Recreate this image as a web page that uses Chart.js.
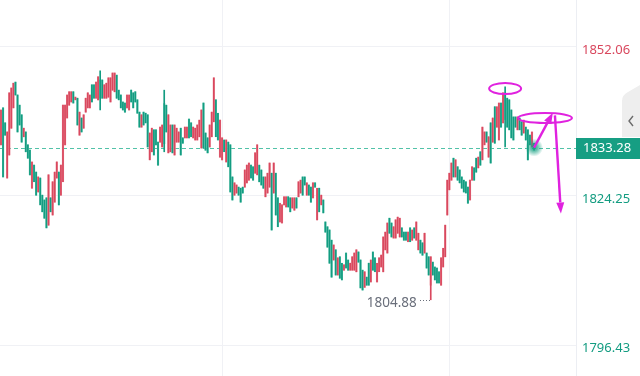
<!DOCTYPE html>
<html>
<head>
<meta charset="utf-8">
<script src="https://cdn.jsdelivr.net/npm/chart.js@4.4.0/dist/chart.umd.min.js"></script>
<style>
  html, body { margin: 0; padding: 0; background: #fff; }
  #wrap { width: 640px; height: 376px; position: relative; }
</style>
</head>
<body>
<div id="wrap"><canvas id="chart"></canvas></div>
<script>
//-----------------------------------------------------------------------------
// candle data (price), one entry per bar, left to right
//-----------------------------------------------------------------------------
const opens = [
  1833.8, 1840.7, 1837.9, 1827.6, 1831.9, 1836.9, 1840.7, 1845.5, 1843.1, 1841.2,
  1839.4, 1835.3, 1836.2, 1833.8, 1832.8, 1825.7, 1830.0, 1828.7, 1825.0, 1827.6,
  1824.4, 1823.5, 1823.9, 1818.8, 1823.9, 1820.7, 1823.1, 1827.6, 1828.7, 1824.4,
  1826.9, 1833.8, 1838.8, 1841.2, 1841.8, 1843.7, 1842.2, 1842.5, 1835.6, 1838.8,
  1836.9, 1839.9, 1840.7, 1840.7, 1845.0, 1845.0, 1842.5, 1842.2, 1845.9, 1845.9,
  1842.5, 1842.5, 1842.7, 1841.8, 1844.0, 1843.7, 1846.8, 1844.0, 1843.1, 1841.8,
  1841.6, 1840.7, 1840.3, 1844.0, 1843.5, 1843.7, 1842.2, 1839.9, 1837.1, 1839.9,
  1839.7, 1839.4, 1831.0, 1832.5, 1836.6, 1836.6, 1834.3, 1834.3, 1833.4, 1841.5,
  1841.2, 1832.3, 1832.5, 1837.5, 1831.9, 1834.3, 1834.3, 1836.9, 1835.1, 1835.1,
  1835.1, 1838.6, 1837.9, 1835.1, 1834.7, 1834.7, 1835.3, 1833.2, 1841.6, 1836.0,
  1835.1, 1833.4, 1835.3, 1838.1, 1842.2, 1839.7, 1831.5, 1831.0, 1834.7, 1830.6,
  1834.3, 1833.8, 1827.8, 1824.4, 1824.8, 1825.9, 1825.7, 1825.9, 1825.9, 1826.7,
  1827.2, 1830.0, 1829.7, 1828.5, 1828.2, 1830.0, 1829.1, 1827.8, 1824.1, 1824.8,
  1825.9, 1828.5, 1824.8, 1828.5, 1823.9, 1819.4, 1819.2, 1822.6, 1822.2, 1824.1,
  1823.9, 1822.0, 1821.6, 1823.9, 1824.1, 1824.8, 1827.8, 1827.8, 1824.4, 1826.3,
  1825.9, 1823.9, 1826.7, 1819.8, 1825.7, 1822.6, 1823.5, 1819.4, 1818.5, 1817.9,
  1816.0, 1812.3, 1814.2, 1809.5, 1812.9, 1811.7, 1810.4, 1813.6, 1812.3, 1810.4,
  1810.4, 1810.4, 1810.1, 1813.8, 1812.3, 1810.4, 1807.2, 1809.1, 1811.7, 1808.2,
  1813.8, 1812.7, 1808.2, 1810.1, 1811.0, 1810.1, 1814.2, 1813.6, 1820.1, 1819.2,
  1816.4, 1816.4, 1817.3, 1816.6, 1818.3, 1817.5, 1817.5, 1815.7, 1818.3, 1816.0,
  1818.3, 1816.0, 1814.2, 1816.0, 1815.5, 1813.6, 1813.6, 1812.9, 1807.6, 1811.9,
  1811.0, 1810.8, 1810.1, 1807.6, 1811.0, 1812.9, 1820.7, 1825.4, 1827.2, 1831.3,
  1827.8, 1829.7, 1829.1, 1827.8, 1827.2, 1826.9, 1825.9, 1823.5, 1827.2, 1829.5,
  1831.3, 1829.5, 1832.5, 1831.0, 1833.8, 1836.2, 1831.5, 1837.9, 1834.3, 1840.9,
  1837.1, 1834.7, 1841.6, 1837.9, 1843.5, 1842.5, 1842.2, 1840.3, 1839.0, 1839.0,
  1836.6, 1838.8, 1838.1, 1836.0, 1837.1, 1836.6, 1835.6, 1833.4, 1834.1
];
const highs = [
  1840.3, 1840.7, 1837.9, 1836.2, 1843.5, 1844.4, 1845.3, 1845.5, 1843.1, 1841.2,
  1839.4, 1836.9, 1836.2, 1833.8, 1832.8, 1830.6, 1830.0, 1828.7, 1827.8, 1827.6,
  1824.4, 1823.5, 1823.9, 1828.2, 1823.9, 1826.9, 1828.7, 1830.6, 1828.7, 1830.0,
  1841.2, 1841.2, 1843.1, 1843.7, 1843.7, 1843.7, 1842.7, 1842.5, 1839.9, 1838.8,
  1839.4, 1842.5, 1843.5, 1843.1, 1845.0, 1845.0, 1845.5, 1846.5, 1847.6, 1845.9,
  1845.0, 1845.3, 1846.3, 1846.3, 1847.2, 1847.2, 1846.8, 1844.0, 1843.1, 1841.8,
  1841.6, 1843.1, 1843.1, 1844.0, 1843.5, 1843.7, 1842.2, 1839.9, 1839.4, 1839.9,
  1839.7, 1839.4, 1836.0, 1836.9, 1836.6, 1836.6, 1834.3, 1837.1, 1837.5, 1844.0,
  1841.2, 1839.4, 1837.5, 1837.5, 1837.5, 1836.9, 1836.2, 1836.9, 1835.1, 1837.1,
  1837.1, 1838.6, 1837.9, 1837.1, 1836.9, 1837.5, 1838.4, 1840.3, 1841.6, 1836.0,
  1835.1, 1837.5, 1839.9, 1846.3, 1842.2, 1839.7, 1838.4, 1835.1, 1834.7, 1834.7,
  1834.3, 1833.8, 1827.8, 1826.7, 1826.3, 1825.9, 1825.7, 1825.9, 1829.1, 1830.0,
  1830.4, 1830.0, 1829.7, 1832.3, 1833.8, 1830.0, 1829.1, 1827.8, 1827.8, 1828.5,
  1830.4, 1828.5, 1830.4, 1828.5, 1823.9, 1822.9, 1822.6, 1824.1, 1824.1, 1824.1,
  1823.9, 1823.9, 1823.9, 1823.9, 1826.9, 1827.2, 1827.8, 1827.8, 1826.7, 1826.3,
  1825.9, 1826.7, 1826.7, 1825.7, 1825.7, 1824.4, 1823.5, 1819.4, 1818.5, 1817.9,
  1816.0, 1815.1, 1814.2, 1812.7, 1812.9, 1811.7, 1811.4, 1813.6, 1812.3, 1811.7,
  1812.9, 1813.6, 1814.2, 1813.8, 1812.3, 1810.4, 1810.1, 1809.1, 1811.7, 1812.3,
  1813.8, 1812.7, 1811.7, 1812.7, 1813.2, 1816.6, 1817.5, 1819.2, 1820.1, 1819.2,
  1818.5, 1819.8, 1820.3, 1820.1, 1818.3, 1817.5, 1817.5, 1817.5, 1818.3, 1817.9,
  1818.3, 1819.4, 1817.3, 1816.0, 1815.5, 1817.3, 1813.6, 1812.9, 1812.9, 1811.9,
  1811.0, 1810.8, 1810.1, 1812.7, 1814.5, 1818.8, 1827.2, 1828.5, 1830.4, 1831.3,
  1831.0, 1829.7, 1829.1, 1827.8, 1827.2, 1826.9, 1825.9, 1827.2, 1829.7, 1829.5,
  1831.3, 1831.5, 1832.5, 1837.1, 1836.2, 1836.2, 1835.3, 1837.9, 1838.8, 1840.9,
  1840.9, 1841.6, 1841.6, 1843.5, 1844.6, 1842.5, 1842.2, 1840.3, 1839.0, 1839.0,
  1839.0, 1838.8, 1838.1, 1838.4, 1837.1, 1836.6, 1835.6, 1836.2, 1834.1
];
const lows = [
  1833.8, 1827.8, 1835.6, 1827.6, 1831.9, 1836.9, 1840.7, 1843.1, 1836.2, 1837.5,
  1834.3, 1835.3, 1832.5, 1831.3, 1828.2, 1825.7, 1826.9, 1824.4, 1825.0, 1822.6,
  1821.3, 1820.1, 1818.3, 1818.8, 1821.3, 1820.7, 1823.1, 1827.6, 1822.6, 1824.4,
  1826.9, 1833.8, 1838.8, 1841.2, 1841.8, 1841.6, 1842.2, 1837.5, 1835.6, 1836.2,
  1836.9, 1839.9, 1840.7, 1840.7, 1841.8, 1842.5, 1842.5, 1842.2, 1840.3, 1842.5,
  1842.5, 1842.5, 1842.7, 1841.8, 1844.0, 1843.7, 1842.5, 1842.2, 1840.7, 1840.3,
  1839.9, 1840.7, 1840.3, 1841.8, 1840.7, 1841.8, 1839.7, 1837.1, 1837.1, 1837.5,
  1837.9, 1833.4, 1831.0, 1832.5, 1831.9, 1833.8, 1830.0, 1834.3, 1833.4, 1832.5,
  1836.2, 1832.3, 1832.5, 1832.3, 1831.9, 1834.3, 1834.3, 1831.9, 1834.1, 1835.1,
  1835.1, 1835.1, 1835.3, 1835.1, 1834.7, 1834.7, 1835.3, 1833.2, 1833.2, 1832.8,
  1832.3, 1833.4, 1835.3, 1838.1, 1835.3, 1834.7, 1831.5, 1831.0, 1832.5, 1830.6,
  1829.7, 1825.0, 1823.5, 1824.4, 1824.8, 1824.4, 1823.1, 1824.8, 1825.9, 1826.7,
  1827.2, 1827.6, 1827.2, 1828.5, 1828.2, 1826.9, 1826.3, 1825.7, 1824.1, 1824.8,
  1825.9, 1817.9, 1824.8, 1820.7, 1818.5, 1819.4, 1819.2, 1822.6, 1822.2, 1822.2,
  1821.3, 1822.0, 1821.6, 1822.0, 1824.1, 1824.8, 1824.4, 1826.3, 1824.4, 1824.4,
  1823.1, 1823.9, 1825.9, 1819.8, 1821.3, 1822.6, 1821.1, 1817.5, 1814.7, 1811.7,
  1809.1, 1812.3, 1809.5, 1809.5, 1808.9, 1808.6, 1810.4, 1810.8, 1810.4, 1810.4,
  1810.4, 1810.4, 1810.1, 1811.9, 1807.1, 1806.7, 1807.2, 1807.6, 1807.6, 1808.2,
  1810.4, 1810.1, 1808.2, 1810.1, 1811.0, 1810.1, 1814.2, 1813.6, 1817.3, 1816.6,
  1816.4, 1816.4, 1817.3, 1816.6, 1816.6, 1816.0, 1816.0, 1815.7, 1815.7, 1816.0,
  1816.4, 1816.0, 1814.2, 1813.6, 1813.2, 1813.6, 1810.8, 1809.5, 1804.88, 1809.5,
  1808.6, 1808.0, 1808.0, 1807.6, 1811.0, 1812.9, 1820.7, 1825.4, 1827.2, 1827.8,
  1827.8, 1827.2, 1826.7, 1825.7, 1825.0, 1824.8, 1822.9, 1823.5, 1827.2, 1827.2,
  1828.7, 1829.5, 1830.0, 1831.0, 1833.8, 1834.3, 1831.5, 1830.4, 1834.3, 1834.1,
  1837.1, 1834.7, 1837.1, 1837.9, 1833.4, 1837.1, 1836.6, 1835.1, 1834.7, 1837.1,
  1836.6, 1836.6, 1835.6, 1836.0, 1834.7, 1831.0, 1833.8, 1833.4, 1832.8
];
const closes = [
  1840.3, 1827.8, 1835.6, 1836.2, 1843.5, 1844.4, 1845.3, 1843.1, 1836.2, 1837.5,
  1834.3, 1836.9, 1832.5, 1831.3, 1828.2, 1830.6, 1826.9, 1824.4, 1827.8, 1822.6,
  1821.3, 1820.1, 1818.3, 1828.2, 1821.3, 1826.9, 1828.7, 1830.6, 1822.6, 1830.0,
  1841.2, 1841.2, 1843.1, 1843.7, 1843.7, 1841.6, 1842.7, 1837.5, 1839.9, 1836.2,
  1839.4, 1842.5, 1843.5, 1843.1, 1841.8, 1842.5, 1845.5, 1846.5, 1842.5, 1842.5,
  1845.0, 1845.3, 1846.3, 1846.3, 1847.2, 1847.2, 1842.5, 1842.2, 1840.7, 1840.3,
  1839.9, 1843.1, 1843.1, 1841.8, 1840.7, 1841.8, 1839.7, 1837.1, 1839.4, 1837.5,
  1837.9, 1833.4, 1836.0, 1836.9, 1831.9, 1833.8, 1830.0, 1837.1, 1837.5, 1834.0,
  1836.2, 1839.4, 1837.5, 1832.3, 1837.5, 1836.9, 1836.2, 1831.9, 1834.1, 1837.1,
  1837.1, 1835.1, 1835.3, 1837.1, 1836.9, 1837.5, 1838.4, 1840.3, 1833.2, 1832.8,
  1832.3, 1837.5, 1839.9, 1846.3, 1835.3, 1834.7, 1838.4, 1835.1, 1832.5, 1834.7,
  1829.7, 1825.0, 1823.5, 1826.7, 1826.3, 1824.4, 1823.1, 1824.8, 1829.1, 1830.0,
  1830.4, 1827.6, 1827.2, 1832.3, 1833.8, 1826.9, 1826.3, 1825.7, 1827.8, 1828.5,
  1830.4, 1817.9, 1830.4, 1820.7, 1818.5, 1822.9, 1822.6, 1824.1, 1824.1, 1822.2,
  1821.3, 1823.9, 1823.9, 1822.0, 1826.9, 1827.2, 1824.4, 1826.3, 1826.7, 1824.4,
  1823.1, 1826.7, 1825.9, 1825.7, 1821.3, 1824.4, 1821.1, 1817.5, 1814.7, 1811.7,
  1809.1, 1815.1, 1809.5, 1812.7, 1808.9, 1808.6, 1811.4, 1810.8, 1810.4, 1811.7,
  1812.9, 1813.6, 1814.2, 1811.9, 1807.1, 1806.7, 1810.1, 1807.6, 1807.6, 1812.3,
  1810.4, 1810.1, 1811.7, 1812.7, 1813.2, 1816.6, 1817.5, 1819.2, 1817.3, 1816.6,
  1818.5, 1819.8, 1820.3, 1820.1, 1816.6, 1816.0, 1816.0, 1817.5, 1815.7, 1817.9,
  1816.4, 1819.4, 1817.3, 1813.6, 1813.2, 1817.3, 1810.8, 1809.5, 1812.9, 1809.5,
  1808.6, 1808.0, 1808.0, 1812.7, 1814.5, 1818.8, 1827.2, 1828.5, 1830.4, 1827.8,
  1831.0, 1827.2, 1826.7, 1825.7, 1825.0, 1824.8, 1822.9, 1827.2, 1829.7, 1827.2,
  1828.7, 1831.5, 1830.0, 1837.1, 1836.2, 1834.3, 1835.3, 1830.4, 1838.8, 1834.1,
  1840.9, 1841.6, 1837.1, 1843.5, 1838.5, 1837.1, 1836.6, 1835.1, 1834.7, 1837.1,
  1839.0, 1836.6, 1835.6, 1838.4, 1834.7, 1831.0, 1833.8, 1836.2, 1833.28
];

// axis / reference values
const priceTicks   = [1796.43, 1824.25, 1852.06];
const lastPrice    = 1833.28;
const sessionLines = [107, 217.3];     // bar index where the faint vertical lines sit
const yMin = 1790.65, yMax = 1860.83;

// hand drawn marks, in (bar index, price)
const ringPeak  = [244, 1844.3];
const ringRight = [263.3, 1838.8];
const arrowUp   = [[258, 1833.28], [267.1, 1839.8]];
const arrowDown = [[268.1, 1839.3], [271.0, 1821.0]];

const RED = '#d9485e', RED_LT = '#ec97a2';
const TEAL = '#139c81', TEAL_LT = '#74cdb9';
const MAGENTA = '#e022df';
const FONT = '"Noto Sans", "DejaVu Sans", sans-serif';

const isUp = i => closes[i] >= opens[i];

//-----------------------------------------------------------------------------
// extra drawing: last price line + tag, low label, side tab, glow, marker pen
//-----------------------------------------------------------------------------
const overlay = {
  id: 'overlay',
  beforeDatasetsDraw(chart){
    const {ctx, chartArea, scales: {y}} = chart;
    const py = Math.round(y.getPixelForValue(lastPrice)) + 0.5;
    ctx.save();
    ctx.strokeStyle = '#52c2a8';
    ctx.lineWidth = 1;
    ctx.setLineDash([4, 3]);
    ctx.beginPath();
    ctx.moveTo(chartArea.left, py);
    ctx.lineTo(chartArea.right, py);
    ctx.stroke();
    ctx.restore();
  },
  afterDatasetsDraw(chart){
    const {ctx, scales: {x, y}} = chart;

    // lowest low label
    let li = 0;
    lows.forEach((v, i) => { if (v < lows[li]) li = i; });
    const lx = x.getPixelForValue(li), ly = y.getPixelForValue(lows[li]);
    ctx.save();
    ctx.fillStyle = '#6a6f7b';
    for (let dx = 2; dx <= 11; dx += 3) ctx.fillRect(Math.round(lx - dx), Math.round(ly), 1, 1);
    ctx.font = `13.5px ${FONT}`;
    ctx.textAlign = 'right';
    ctx.textBaseline = 'middle';
    ctx.fillText(lows[li].toFixed(2), lx - 14, ly + 3);
    ctx.restore();
  },
  afterDraw(chart){
    const {ctx, chartArea, scales: {x, y}} = chart;
    const W = chart.width;
    ctx.save();

    // collapse tab on the right
    ctx.fillStyle = '#eeeeee';
    ctx.beginPath();
    ctx.moveTo(622, 137);
    ctx.lineTo(622, 101);
    ctx.quadraticCurveTo(622, 95, 628, 92);
    ctx.lineTo(W, 85);
    ctx.lineTo(W, 137);
    ctx.closePath();
    ctx.fill();
    ctx.strokeStyle = '#6b6b6b';
    ctx.lineWidth = 1.4;
    ctx.beginPath();
    ctx.moveTo(633, 116);
    ctx.lineTo(629, 121);
    ctx.lineTo(633, 126);
    ctx.stroke();

    // last price tag
    const py = y.getPixelForValue(lastPrice);
    ctx.fillStyle = '#169e83';
    ctx.fillRect(chartArea.right, Math.round(py) - 10, W - chartArea.right, 21);
    ctx.fillStyle = '#ffffff';
    ctx.font = `13px ${FONT}`;
    ctx.textAlign = 'left';
    ctx.textBaseline = 'middle';
    ctx.fillText(lastPrice.toFixed(2), chartArea.right + 7, py + 1);

    // glow on last bar
    const gx = x.getPixelForValue(closes.length - 1);
    const g = ctx.createRadialGradient(gx, py, 0, gx, py, 9);
    g.addColorStop(0, 'rgba(22,160,130,0.95)');
    g.addColorStop(0.4, 'rgba(22,160,130,0.65)');
    g.addColorStop(1, 'rgba(22,160,130,0)');
    ctx.fillStyle = g;
    ctx.beginPath();
    ctx.arc(gx, py, 9, 0, Math.PI * 2);
    ctx.fill();

    // marker pen
    const P = p => [x.getPixelForValue(p[0]), y.getPixelForValue(p[1])];
    ctx.strokeStyle = MAGENTA;
    ctx.fillStyle = MAGENTA;
    ctx.lineWidth = 2;
    let c = P(ringPeak);
    ctx.beginPath(); ctx.ellipse(c[0], c[1], 16, 5.5, 0, 0, Math.PI * 2); ctx.stroke();
    c = P(ringRight);
    ctx.beginPath(); ctx.ellipse(c[0], c[1], 27, 5, 0, 0, Math.PI * 2); ctx.stroke();
    drawArrow(ctx, P(arrowUp[0]), P(arrowUp[1]));
    drawArrow(ctx, P(arrowDown[0]), P(arrowDown[1]));
    ctx.restore();
  }
};

function drawArrow(ctx, a, b){
    const ang = Math.atan2(b[1] - a[1], b[0] - a[0]);
    const len = 11, half = 4;
    const bx = b[0] - Math.cos(ang) * len, by = b[1] - Math.sin(ang) * len;
    ctx.lineWidth = 2.4;
    ctx.beginPath();
    ctx.moveTo(a[0], a[1]);
    ctx.lineTo(bx, by);
    ctx.stroke();
    ctx.beginPath();
    ctx.moveTo(b[0], b[1]);
    ctx.lineTo(bx + Math.sin(ang) * half, by - Math.cos(ang) * half);
    ctx.lineTo(bx - Math.sin(ang) * half, by + Math.cos(ang) * half);
    ctx.closePath();
    ctx.fill();
}

//-----------------------------------------------------------------------------
// the chart: wick bars on top of body bars
//-----------------------------------------------------------------------------
const ctx = document.getElementById('chart').getContext('2d');
new Chart(ctx, {
  type: 'bar',
  data: {
    datasets: [
      {
        label: 'wick',
        data: lows.map((l, i) => ({x: i, y: [l, highs[i]]})),
        backgroundColor: c => isUp(c.dataIndex) ? RED : TEAL,
        barThickness: 1,
        grouped: false,
        borderWidth: 0
      },
      {
        label: 'body',
        data: opens.map((o, i) => ({x: i, y: [o, closes[i]]})),
        backgroundColor: c => isUp(c.dataIndex) ? RED_LT : TEAL_LT,
        barThickness: 1.5,
        minBarLength: 1,
        grouped: false,
        borderWidth: 0
      }
    ]
  },
  options: {
    responsive: true,
    maintainAspectRatio: false,
    animation: false,
    layout: { padding: 0 },
    plugins: { legend: { display: false }, tooltip: { enabled: false } },
    scales: {
      x: {
        type: 'linear',
        min: -0.48,
        max: 278.3,
        offset: false,
        afterBuildTicks: s => { s.ticks = sessionLines.map(v => ({value: v})); },
        afterFit: s => { s.height = 0; s.paddingLeft = 0; s.paddingRight = 0; },
        ticks: { display: false },
        grid: { color: '#f0f1f5', drawTicks: false, offset: false },
        border: { display: false }
      },
      y: {
        position: 'right',
        min: yMin,
        max: yMax,
        afterBuildTicks: s => { s.ticks = priceTicks.map(v => ({value: v})); },
        afterFit: s => { s.width = 64; s.paddingTop = 0; s.paddingBottom = 0; },
        grid: { color: '#f0f1f5', drawTicks: false },
        border: { color: '#eceef3' },
        ticks: {
          padding: 6,
          labelOffset: 3,
          font: { family: FONT, size: 13 },
          color: c => c.tick.value > lastPrice ? RED : TEAL,
          callback: v => Number(v).toFixed(2)
        }
      }
    }
  },
  plugins: [overlay]
});
</script>
</body>
</html>
